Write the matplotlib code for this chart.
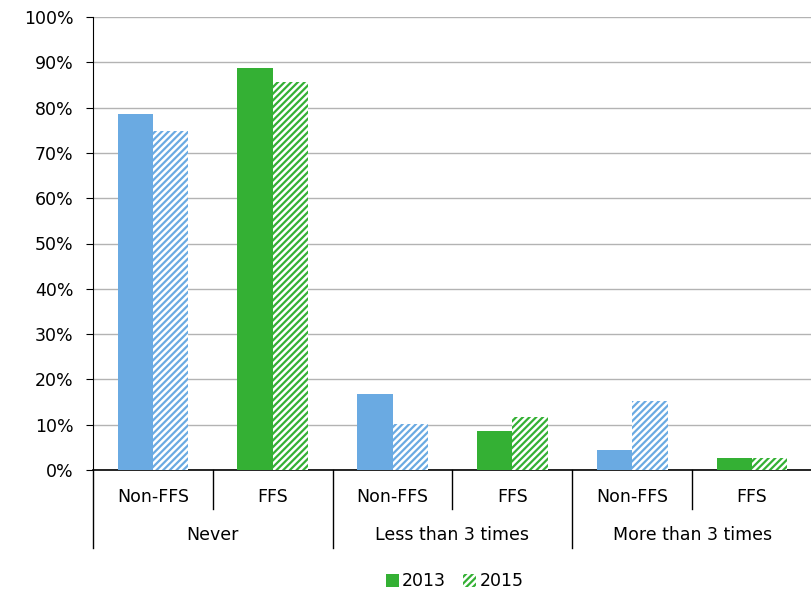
import numpy as np
import matplotlib.pyplot as plt
from matplotlib.patches import Patch

groups = ["Never", "Less than 3 times", "More than 3 times"]
subcats = ["Non-FFS", "FFS"]
vals_2013 = [78.6, 88.7, 16.8, 8.6, 4.4, 2.6]
vals_2015 = [74.8, 85.6, 10.2, 11.7, 15.2, 2.6]

blue = "#6aaae2"
green = "#34b034"
colors = [blue, green] * 3

plt.rcParams["font.family"] = "DejaVu Sans"
plt.rcParams["hatch.linewidth"] = 1.6
fs = 12.5

fig = plt.figure(figsize=(8.12, 5.92), dpi=100)
ax = fig.add_axes([93 / 812, 1 - 470 / 592, 719 / 812, 453 / 592])

x = np.arange(6)
w = 0.295
for i in range(6):
    ax.bar(x[i] - w / 2, vals_2013[i], w, color=colors[i], zorder=3)
    ax.bar(x[i] + w / 2, vals_2015[i], w, facecolor="white", edgecolor=colors[i],
           hatch="/////", linewidth=0, zorder=3)

ax.set_xlim(-0.5, 5.5)
ax.set_ylim(0, 100)
ax.set_yticks(np.arange(0, 101, 10))
ax.set_yticklabels([f"{v}%" for v in range(0, 101, 10)], fontsize=fs)
ax.yaxis.grid(True, color="#b3b3b3", linewidth=1)
ax.set_axisbelow(True)
ax.tick_params(axis="y", length=5, color="black", pad=9)
ax.set_xticks([])
for s in ["top", "right"]:
    ax.spines[s].set_visible(False)
ax.spines["left"].set_color("black")
ax.spines["bottom"].set_color("black")
ax.spines["bottom"].set_linewidth(1.2)

# category labels under the axis
trans = ax.get_xaxis_transform()
for i in range(6):
    ax.text(x[i], -0.06, subcats[i % 2], transform=trans, ha="center", va="center",
            fontsize=fs)
for g, name in enumerate(groups):
    ax.text(2 * g + 0.5, -0.143, name, transform=trans, ha="center", va="center",
            fontsize=fs)

# separator lines between categories
for b in np.arange(-0.5, 5.5, 1.0):
    long_line = (b + 0.5) % 2 == 0
    bottom = -0.172 if long_line else -0.086
    ax.plot([b, b], [0, bottom], transform=trans, color="black", linewidth=1,
            clip_on=False)

handles = [Patch(facecolor=green, edgecolor="none", label="2013"),
           Patch(facecolor="white", edgecolor=green, hatch="/////", linewidth=0,
                 label="2015")]
fig.legend(handles=handles, loc="center", bbox_to_anchor=(0.56, 0.018), ncol=2,
           frameon=False, fontsize=fs, handlelength=0.75, handleheight=0.75,
           handletextpad=0.2, columnspacing=1.0)

fig.savefig("out.png", dpi=100)
